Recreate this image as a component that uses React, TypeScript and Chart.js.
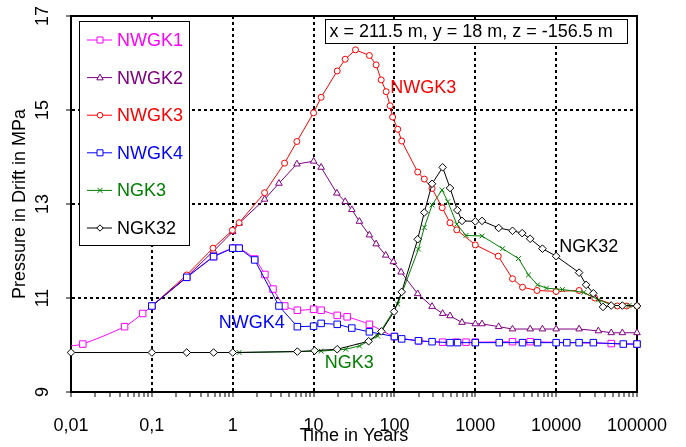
import React, { useEffect, useRef } from 'react';
import { Chart, registerables } from 'chart.js';

Chart.register(...registerables);

// ---- values: time in years / pressure in MPa ----
const nwgk1Years = [0.01, 0.014, 0.046, 0.077, 0.1, 0.27, 0.58, 1.0, 1.2, 1.87, 2.5, 3.15, 4.4, 6.3, 10, 12.4, 19.6, 26, 49, 100, 200, 395, 578, 767, 1000, 2886, 4775, 48000, 100000];
const nwgk1Pressure = [9.98, 10.02, 10.39, 10.67, 10.83, 11.44, 11.88, 12.06, 12.06, 11.83, 11.5, 11.19, 10.83, 10.74, 10.76, 10.74, 10.63, 10.6, 10.44, 10.18, 10.09, 10.06, 10.06, 10.06, 10.06, 10.07, 10.07, 10.03, 10.02];

const nwgk2Years = [0.1, 0.27, 0.58, 1.0, 1.2, 2.48, 3.73, 6.22, 10, 12.4, 19.4, 24.6, 29.7, 36.9, 49, 59.4, 78, 97, 121, 194, 292, 395, 487, 685, 1000, 1211, 1945, 2886, 4775, 6770, 10000, 19230, 33270, 48000, 65900, 100000];
const nwgk2Pressure = [10.83, 11.45, 12.0, 12.41, 12.59, 13.1, 13.44, 13.85, 13.91, 13.78, 13.23, 13.05, 12.88, 12.63, 12.34, 12.15, 11.91, 11.77, 11.55, 11.09, 10.82, 10.67, 10.62, 10.48, 10.45, 10.45, 10.39, 10.34, 10.34, 10.34, 10.34, 10.34, 10.3, 10.26, 10.26, 10.26];

const nwgk3Years = [0.1, 0.27, 0.57, 0.99, 1.2, 2.48, 4.38, 6.22, 10, 12.4, 19.6, 24.6, 33, 49, 59.4, 68.6, 79, 88.5, 95, 110, 123, 194, 234, 292, 390, 487, 590, 1000, 1923, 2886, 3837, 5800, 10000, 19230, 30000, 57000, 74600, 100000];
const nwgk3Pressure = [10.83, 11.49, 12.06, 12.44, 12.6, 13.24, 13.87, 14.33, 14.94, 15.27, 15.83, 16.08, 16.28, 16.16, 15.96, 15.64, 15.39, 15.09, 14.85, 14.59, 14.34, 13.68, 13.53, 13.33, 12.92, 12.6, 12.45, 12.13, 11.89, 11.41, 11.23, 11.16, 11.14, 11.16, 11.0, 10.83, 10.83, 10.83];

const nwgk4Years = [0.1, 0.27, 0.58, 1.0, 1.2, 1.87, 3.73, 6.3, 10, 12.4, 19.6, 29.7, 49, 100, 123, 198, 292, 487, 604, 1000, 1978, 3837, 5890, 10000, 13560, 19230, 28850, 67700, 100000];
const nwgk4Pressure = [10.83, 11.44, 11.88, 12.06, 12.06, 11.81, 10.83, 10.39, 10.4, 10.46, 10.44, 10.36, 10.28, 10.18, 10.13, 10.09, 10.07, 10.05, 10.05, 10.05, 10.05, 10.05, 10.05, 10.05, 10.05, 10.05, 10.05, 10.02, 10.02];

const ngk3Years = [1.2, 12.4, 25, 37, 62, 110, 198, 234, 292, 388, 457, 590, 767, 1211, 2174, 3425, 4550, 5890, 7600, 12000, 22000, 33500, 50900, 79600, 100000];
const ngk3Pressure = [9.84, 9.87, 9.91, 9.98, 10.19, 10.87, 12.04, 12.5, 12.98, 13.3, 13.05, 12.57, 12.33, 12.32, 12.05, 11.84, 11.49, 11.28, 11.21, 11.18, 11.12, 10.96, 10.84, 10.84, 10.83];

const ngk32Years = [0.01, 0.1, 0.27, 0.58, 1.0, 6.3, 10.3, 19.6, 48, 69, 99, 123, 194, 234, 292, 395, 487, 600, 685, 1000, 1211, 1945, 2886, 3800, 4775, 6770, 10000, 19230, 23500, 28850, 38000, 48000, 65900, 100000];
const ngk32Pressure = [9.84, 9.84, 9.84, 9.84, 9.84, 9.86, 9.88, 9.91, 10.08, 10.29, 10.71, 11.13, 12.25, 12.82, 13.43, 13.78, 13.34, 12.87, 12.64, 12.63, 12.64, 12.49, 12.43, 12.38, 12.26, 12.05, 11.89, 11.54, 11.28, 11.1, 10.81, 10.84, 10.84, 10.83];

const seriesNames = ['NWGK1', 'NWGK2', 'NWGK3', 'NWGK4', 'NGK3', 'NGK32'];
const seriesYears = [nwgk1Years, nwgk2Years, nwgk3Years, nwgk4Years, ngk3Years, ngk32Years];
const seriesPressure = [nwgk1Pressure, nwgk2Pressure, nwgk3Pressure, nwgk4Pressure, ngk3Pressure, ngk32Pressure];

const xDecades = [0.01, 0.1, 1, 10, 100, 1000, 10000, 100000];
const xTickLabels = ['0,01', '0,1', '1', '10', '100', '1000', '10000', '100000'];
const yTickValues = [9, 11, 13, 15, 17];

const infoText = 'x = 211.5 m, y = 18 m, z = -156.5 m';
const xTitle = 'Time in Years';
const yTitle = 'Pressure in Drift in MPa';

// ---- appearance ----
const FONT = "'Liberation Sans', Arial, Helvetica, sans-serif";
const seriesStyles = [
  { color: '#ff00ff', point: 'rect', radius: 4.6, legendR: 3 },
  { color: '#800080', point: 'triangle', radius: 3.8, legendR: 3.2 },
  { color: '#ff0000', point: 'circle', radius: 3, legendR: 2.8 },
  { color: '#0000ff', point: 'rect', radius: 4.6, legendR: 3 },
  { color: '#008000', point: 'crossRot', radius: 3.4, legendR: 3.2 },
  { color: '#000000', point: 'rectRot', radius: 3.8, legendR: 3.2 },
];

// in-plot curve names, anchored in data units
const curveLabels = [
  { series: 2, t: 88.5, p: 15.46 },
  { series: 3, t: 0.67, p: 10.47 },
  { series: 4, t: 13.7, p: 9.61 },
  { series: 5, t: 10900, p: 12.09 },
];

const xTickValues: number[] = (() => {
  const out: number[] = [];
  for (let e = -2; e <= 4; e++) {
    for (let k = 1; k <= 9; k++) out.push(Number((k * Math.pow(10, e)).toPrecision(6)));
  }
  out.push(100000);
  return out;
})();

const decadeIndex = (v: number) =>
  xDecades.findIndex((d) => Math.abs(Math.log10(v) - Math.log10(d)) < 1e-6);

function drawMarker(ctx: CanvasRenderingContext2D, style: string, x: number, y: number, r: number, color: string) {
  ctx.save();
  ctx.strokeStyle = color;
  ctx.fillStyle = '#ffffff';
  ctx.lineWidth = 1;
  ctx.beginPath();
  if (style === 'rect') {
    ctx.rect(x - r, y - r, 2 * r, 2 * r);
    ctx.fill();
    ctx.stroke();
  } else if (style === 'circle') {
    ctx.arc(x, y, r, 0, Math.PI * 2);
    ctx.fill();
    ctx.stroke();
  } else if (style === 'triangle') {
    ctx.moveTo(x, y - r * 1.1);
    ctx.lineTo(x + r, y + r * 0.7);
    ctx.lineTo(x - r, y + r * 0.7);
    ctx.closePath();
    ctx.fill();
    ctx.stroke();
  } else if (style === 'rectRot') {
    ctx.moveTo(x - r, y);
    ctx.lineTo(x, y - r);
    ctx.lineTo(x + r, y);
    ctx.lineTo(x, y + r);
    ctx.closePath();
    ctx.fill();
    ctx.stroke();
  } else if (style === 'crossRot') {
    ctx.moveTo(x - r * 0.8, y - r * 0.8);
    ctx.lineTo(x + r * 0.8, y + r * 0.8);
    ctx.moveTo(x + r * 0.8, y - r * 0.8);
    ctx.lineTo(x - r * 0.8, y + r * 0.8);
    ctx.stroke();
  }
  ctx.restore();
}

const decorPlugin = {
  id: 'plotDecor',
  beforeDatasetsDraw(chart: any) {
    const { ctx, chartArea: a } = chart;
    ctx.save();
    ctx.strokeStyle = '#000';
    ctx.lineWidth = 2;
    ctx.beginPath();
    ctx.moveTo(a.left - 1, a.top);
    ctx.lineTo(a.right, a.top);
    ctx.lineTo(a.right, a.bottom + 1);
    ctx.stroke();
    ctx.restore();
  },
  afterDatasetsDraw(chart: any) {
    const { ctx, chartArea: a, scales } = chart;
    ctx.save();

    // legend box
    const lx = a.left + 8.5;
    const ly = a.top + 5.5;
    const lw = 110;
    const lh = 224;
    ctx.fillStyle = '#ffffff';
    ctx.fillRect(lx, ly, lw, lh);
    ctx.strokeStyle = '#000';
    ctx.lineWidth = 1;
    ctx.strokeRect(lx, ly, lw, lh);
    ctx.font = `18px ${FONT}`;
    ctx.textBaseline = 'middle';
    ctx.textAlign = 'left';
    seriesNames.forEach((name, i) => {
      const st = seriesStyles[i];
      const y = a.top + 24 + i * 37.6;
      ctx.strokeStyle = st.color;
      ctx.lineWidth = 1;
      ctx.beginPath();
      ctx.moveTo(a.left + 16, y);
      ctx.lineTo(a.left + 41, y);
      ctx.stroke();
      drawMarker(ctx, st.point, a.left + 29, y, st.legendR, st.color);
      ctx.fillStyle = st.color;
      ctx.fillText(name, a.left + 46, y + 1);
    });

    // location box
    const bw = 302;
    const bx = a.right - 9.5 - bw;
    const by = a.top + 3.5;
    const bh = 24;
    ctx.fillStyle = '#ffffff';
    ctx.fillRect(bx, by, bw, bh);
    ctx.strokeStyle = '#000';
    ctx.lineWidth = 1;
    ctx.strokeRect(bx, by, bw, bh);
    ctx.fillStyle = '#000';
    ctx.textAlign = 'left';
    ctx.fillText(infoText, bx + 4, by + bh / 2 + 1);

    // curve names inside the plot
    curveLabels.forEach((lab) => {
      const x = scales.x.getPixelForValue(lab.t);
      const y = scales.y.getPixelForValue(lab.p);
      ctx.fillStyle = seriesStyles[lab.series].color;
      ctx.fillText(seriesNames[lab.series], x, y);
    });
    ctx.restore();
  },
};

export default function App() {
  const canvasRef = useRef<HTMLCanvasElement | null>(null);

  useEffect(() => {
    const canvas = canvasRef.current;
    if (!canvas) return;

    const datasets = seriesNames.map((name, i) => {
      const st = seriesStyles[i];
      return {
        label: name,
        data: seriesYears[i].map((t, j) => ({ x: t, y: seriesPressure[i][j] })),
        borderColor: st.color,
        backgroundColor: '#ffffff',
        borderWidth: 1,
        pointStyle: st.point,
        pointRadius: (c: any) => (i === 0 && c.dataIndex === 0 ? 0 : st.radius),
        pointBorderColor: st.color,
        pointBackgroundColor: '#ffffff',
        pointBorderWidth: 1,
        tension: i === 0 ? 0.25 : 0,
        clip: false as const,
        order: seriesNames.length - 1 - i,
      };
    });

    const chart = new Chart(canvas, {
      type: 'line',
      data: { datasets: datasets as any },
      plugins: [decorPlugin],
      options: {
        animation: false,
        responsive: false,
        devicePixelRatio: 1,
        events: [],
        layout: { padding: { left: 0, top: 16, right: 49, bottom: 0 } },
        plugins: { legend: { display: false }, tooltip: { enabled: false } },
        scales: {
          x: {
            type: 'logarithmic',
            min: 0.01,
            max: 100000,
            position: 'bottom',
            afterBuildTicks: (s: any) => {
              s.ticks = xTickValues.map((v) => ({ value: v }));
            },
            afterFit: (s: any) => {
              s.height = 55;
            },
            ticks: {
              autoSkip: false,
              minRotation: 0,
              maxRotation: 0,
              padding: 18,
              color: '#000',
              font: { family: FONT, size: 18 },
              callback: (v: any) => {
                const k = decadeIndex(Number(v));
                return k >= 0 ? xTickLabels[k] : '';
              },
            },
            grid: {
              color: (c: any) => {
                const v = c.tick ? c.tick.value : 0;
                const k = decadeIndex(v);
                return k > 0 && k < xDecades.length - 1 ? '#000' : 'rgba(0,0,0,0)';
              },
              lineWidth: 2,
              tickColor: '#000',
              tickLength: 5,
              tickWidth: 1,
              tickBorderDash: [],
            },
            border: { display: true, color: '#000', width: 2, dash: [3, 3] },
            title: {
              display: true,
              text: xTitle,
              color: '#000',
              font: { family: FONT, size: 18 },
              padding: { top: 0, bottom: 0 },
            },
          } as any,
          y: {
            type: 'linear',
            min: 9,
            max: 17,
            afterBuildTicks: (s: any) => {
              s.ticks = yTickValues.map((v) => ({ value: v }));
            },
            afterFit: (s: any) => {
              s.width = 71;
              s.paddingTop = 0;
              s.paddingBottom = 0;
            },
            ticks: {
              minRotation: 90,
              maxRotation: 90,
              crossAlign: 'center',
              padding: 13,
              color: '#000',
              font: { family: FONT, size: 18 },
              callback: (v: any) => String(v),
            },
            grid: {
              color: (c: any) => {
                const v = c.tick ? c.tick.value : 0;
                return v > 9 && v < 17 ? '#000' : 'rgba(0,0,0,0)';
              },
              lineWidth: 2,
              tickColor: '#000',
              tickLength: 5,
              tickWidth: 1,
              tickBorderDash: [],
            },
            border: { display: true, color: '#000', width: 2, dash: [3, 3] },
            title: {
              display: true,
              text: yTitle,
              color: '#000',
              font: { family: FONT, size: 18 },
              padding: { top: 9, bottom: 0 },
            },
          } as any,
        },
      },
    });

    return () => chart.destroy();
  }, []);

  return (
    <div style={{ position: 'absolute', left: 0, top: 0, width: 686, height: 447, background: '#fff' }}>
      <canvas ref={canvasRef} width={686} height={447} style={{ display: 'block' }} />
    </div>
  );
}
